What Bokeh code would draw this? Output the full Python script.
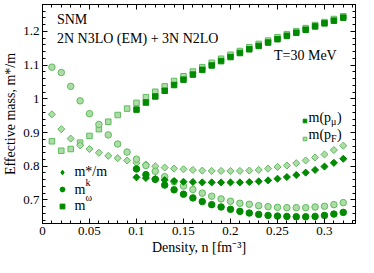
import math
from bokeh.plotting import figure
from bokeh.models import (Range1d, FixedTicker, CustomJSTickFormatter, LinearAxis,
                          Label, Legend, LegendItem)
from bokeh.embed import file_html
from bokeh.resources import INLINE

# ---------------- data ----------------
density_pF = [0.01, 0.02, 0.03, 0.04, 0.05, 0.06, 0.07, 0.08, 0.09, 0.10,
              0.11, 0.12, 0.13, 0.14, 0.15, 0.16, 0.17, 0.18, 0.19, 0.20,
              0.21, 0.22, 0.23, 0.24, 0.25, 0.26, 0.27, 0.28, 0.29, 0.30,
              0.31, 0.32]
density_pmu = [0.10, 0.11, 0.12, 0.13, 0.14, 0.15, 0.16, 0.17, 0.18, 0.19,
               0.20, 0.21, 0.22, 0.23, 0.24, 0.25, 0.26, 0.27, 0.28, 0.29,
               0.30, 0.31, 0.32]

mstar_pF = [0.954, 0.910, 0.882, 0.862, 0.851, 0.840, 0.831, 0.824, 0.817, 0.810,
            0.805, 0.800, 0.796, 0.793, 0.791, 0.789, 0.787, 0.786, 0.786, 0.786,
            0.786, 0.787, 0.789, 0.793, 0.798, 0.802, 0.809, 0.817, 0.826, 0.835,
            0.848, 0.861]
mk_pF = [1.094, 1.078, 1.037, 0.994, 0.956, 0.924, 0.893, 0.866, 0.842, 0.821,
         0.802, 0.785, 0.769, 0.754, 0.741, 0.731, 0.720, 0.711, 0.703, 0.696,
         0.690, 0.687, 0.683, 0.680, 0.678, 0.677, 0.677, 0.677, 0.679, 0.681,
         0.686, 0.692]
mw_pF = [0.874, 0.846, 0.851, 0.870, 0.890, 0.910, 0.932, 0.952, 0.971, 0.988,
         1.005, 1.021, 1.037, 1.053, 1.067, 1.081, 1.094, 1.107, 1.119, 1.131,
         1.142, 1.153, 1.163, 1.173, 1.183, 1.192, 1.201, 1.210, 1.219, 1.228,
         1.237, 1.245]

mstar_pmu = [0.767, 0.765, 0.762, 0.759, 0.756, 0.754, 0.753, 0.752, 0.752, 0.752,
             0.752, 0.752, 0.753, 0.755, 0.758, 0.763, 0.768, 0.774, 0.781, 0.789,
             0.799, 0.810, 0.822]
mk_pmu = [0.792, 0.775, 0.761, 0.744, 0.730, 0.717, 0.706, 0.695, 0.686, 0.679,
          0.672, 0.666, 0.661, 0.657, 0.654, 0.652, 0.651, 0.650, 0.650, 0.651,
          0.654, 0.658, 0.663]
mw_pmu = [0.968, 0.989, 1.007, 1.024, 1.041, 1.057, 1.072, 1.086, 1.099, 1.112,
          1.124, 1.136, 1.147, 1.157, 1.167, 1.177, 1.187, 1.196, 1.205, 1.215,
          1.224, 1.232, 1.241]

x_major_ticks = [0, 0.05, 0.1, 0.15, 0.2, 0.25, 0.3]
x_minor_ticks = [i / 100 for i in range(0, 34)]
y_major_ticks = [0.7, 0.8, 0.9, 1.0, 1.1, 1.2]
y_minor_ticks = [round(0.64 + 0.02 * i, 2) for i in range(0, 33)]

# ---------------- style ----------------
FONT = "Liberation Serif"
DARK = "#008a00"
LIGHT_FILL = "#aedca6"
LIGHT_LINE = "#5fbb5f"

p = figure(width=358, height=257, x_range=Range1d(0, 0.333), y_range=Range1d(0.63, 1.28),
           output_backend="svg", toolbar_location=None,
           min_border_left=36, min_border_right=3, min_border_top=4, min_border_bottom=34)
p.xgrid.visible = False
p.ygrid.visible = False
p.outline_line_color = "black"
p.background_fill_color = "white"

fmt = CustomJSTickFormatter(code="return String(Math.round(tick*1000)/1000);")
blank_fmt = CustomJSTickFormatter(code="return '';")


def style_axis(ax, ticks, minors, show):
    ax.ticker = FixedTicker(ticks=ticks, minor_ticks=minors)
    ax.formatter = fmt if show else blank_fmt
    ax.major_tick_in = 5
    ax.major_tick_out = 0
    ax.minor_tick_in = 3
    ax.minor_tick_out = 0
    ax.axis_line_color = "black"
    ax.major_tick_line_color = "black"
    ax.minor_tick_line_color = "black"
    ax.major_label_text_font = FONT
    ax.major_label_text_font_size = "13px"
    ax.major_label_text_color = "black"
    ax.major_label_standoff = 3 if show else 0
    ax.axis_label_text_font = FONT
    ax.axis_label_text_font_style = "normal"
    ax.axis_label_text_font_size = "14px"
    ax.axis_label_text_color = "black"
    ax.axis_label_standoff = 2


style_axis(p.xaxis[0], x_major_ticks, x_minor_ticks, True)
style_axis(p.yaxis[0], y_major_ticks, y_minor_ticks, True)
p.xaxis[0].axis_label = "Density, n [fm\u207b\u00b3]"
p.yaxis[0].axis_label = "Effective mass, m*/m"

top_ax = LinearAxis()
style_axis(top_ax, x_major_ticks, x_minor_ticks, False)
p.add_layout(top_ax, "above")
right_ax = LinearAxis()
style_axis(right_ax, y_major_ticks, y_minor_ticks, False)
p.add_layout(right_ax, "right")

# ---------------- glyphs ----------------
light = dict(fill_color=LIGHT_FILL, line_color=LIGHT_LINE, line_width=1)
dark = dict(fill_color=DARK, line_color=DARK, line_width=1)

r_lw = p.scatter(density_pF, mw_pF, marker="square", size=5.5, **light)
r_ls = p.scatter(density_pF, mstar_pF, marker="square", angle=math.pi / 4, size=5, **light)
r_lk = p.scatter(density_pF, mk_pF, marker="circle", size=6.5, **light)

r_dw = p.scatter(density_pmu, mw_pmu, marker="square", size=5.5, **dark)
r_ds = p.scatter(density_pmu, mstar_pmu, marker="square", angle=math.pi / 4, size=5, **dark)
r_dk = p.scatter(density_pmu, mk_pmu, marker="circle", size=6.5, **dark)

# legend-key renderer for the m*/m diamond (same data, zero size: invisible in plot)
r_key_diamond = p.scatter(density_pmu, mstar_pmu, marker="diamond", size=0, **dark)

# ---------------- legends (keys only; text as labels) ----------------
leg_common = dict(orientation="vertical", spacing=0, padding=0, margin=0,
                  label_text_font_size="1px", label_standoff=0, label_width=0,
                  background_fill_alpha=0, border_line_alpha=0)
leg_shape = Legend(items=[LegendItem(label=" ", renderers=[r_key_diamond]),
                          LegendItem(label=" ", renderers=[r_dk]),
                          LegendItem(label=" ", renderers=[r_dw])],
                   location=(14, 9), glyph_width=12, glyph_height=12, label_height=17,
                   **leg_common)
leg_mom = Legend(items=[LegendItem(label=" ", renderers=[r_dw]),
                        LegendItem(label=" ", renderers=[r_lw])],
                 location=(258, 76), glyph_width=9, glyph_height=9, label_height=18,
                 **leg_common)
p.add_layout(leg_shape)
p.add_layout(leg_mom)


def lab(text, x, y, size="14px", align="left", dx=0, dy=0):
    p.add_layout(Label(x=x, y=y, text=text, x_offset=dx, y_offset=dy,
                       text_font=FONT, text_font_size=size, text_color="black",
                       text_align=align, text_baseline="middle"))


lab("SNM", 0.0154, 1.235)
lab("2N N3LO (EM) + 3N N2LO", 0.0154, 1.18)
lab("T=30 MeV", 0.313, 1.128, align="right")

# right legend text m(p_mu), m(p_F)
for yy, sub in [(0.946, "\u03bc"), (0.894, "F")]:
    lab("m(p", 0.283, yy)
    lab(sub, 0.283, yy, size="10px", dx=22.5, dy=-4)
    lab(")", 0.283, yy, dx=28.5)

# left legend text
lab("m*/m", 0.034, 0.783)
lab("m", 0.034, 0.732)
lab("k", 0.034, 0.732, size="10px", dx=11, dy=7)
lab("m", 0.034, 0.683)
lab("\u03c9", 0.034, 0.683, size="10px", dx=11, dy=8)

open("out.html", "w").write(file_html(p, INLINE))
